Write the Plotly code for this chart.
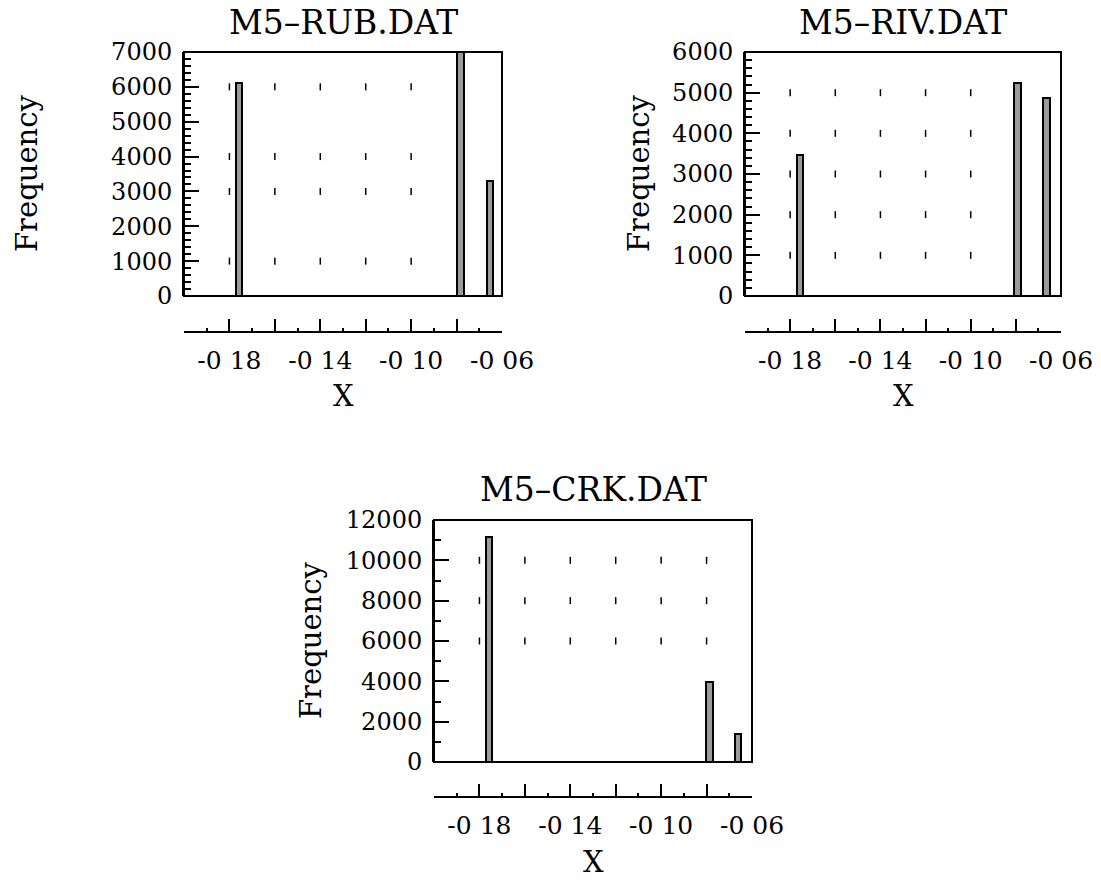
import plotly.graph_objects as go

# ---- data ----
rub_x = [-0.1757, -0.0782, -0.0654]
rub_freq = [6120, 7000, 3290]

riv_x = [-0.1756, -0.0793, -0.0664]
riv_freq = [3470, 5230, 4870]

crk_x = [-0.1758, -0.0787, -0.0661]
crk_freq = [11140, 3970, 1370]

# faint grid marks visible in the scan
rub_grid_x = [-0.18, -0.16, -0.14, -0.12, -0.10]
rub_grid_y = [1000, 3000, 4000, 6000]
riv_grid_x = [-0.18, -0.16, -0.14, -0.12, -0.10]
riv_grid_y = [1000, 2000, 3000, 4000, 5000]
crk_grid_x = [-0.18, -0.16, -0.14, -0.12, -0.10, -0.08]
crk_grid_y = [6000, 8000, 10000]

titles = ["M5\u2013RUB.DAT", "M5\u2013RIV.DAT", "M5\u2013CRK.DAT"]
x_tickvals = [-0.20, -0.18, -0.16, -0.14, -0.12, -0.10, -0.08, -0.06]
x_ticktext = ["", "-0 18", "", "-0 14", "", "-0 10", "", "-0 06"]

W, H = 1101, 880
FONT = "DejaVu Serif"


def px(x):
    return x / W


def py(y):
    return 1 - y / H


panels = [
    dict(l=184, r=502, t=52, b=296, base=332, xt=396, ymax=7000, dtick=1000, minor=200, ytx=27,
         x=rub_x, y=rub_freq, gx=rub_grid_x, gy=rub_grid_y),
    dict(l=745, r=1061, t=52, b=296, base=332, xt=396, ymax=6000, dtick=1000, minor=200, ytx=639,
         x=riv_x, y=riv_freq, gx=riv_grid_x, gy=riv_grid_y),
    dict(l=434, r=752, t=520, b=762, base=797, xt=862, ymax=12000, dtick=2000, minor=1000, ytx=311,
         x=crk_x, y=crk_freq, gx=crk_grid_x, gy=crk_grid_y),
]

fig = go.Figure()
shapes = []
annotations = []

for i, p in enumerate(panels):
    sfx = "" if i == 0 else str(i + 1)
    xa, ya = "x" + sfx, "y" + sfx

    gxs = [gx for gy in p["gy"] for gx in p["gx"]]
    gys = [gy for gy in p["gy"] for gx in p["gx"]]
    fig.add_trace(go.Scatter(
        x=gxs, y=gys, mode="markers", xaxis=xa, yaxis=ya,
        marker=dict(symbol="line-ns", size=5, line=dict(width=1.5, color="black")),
        hoverinfo="skip"))

    fig.add_trace(go.Bar(
        x=p["x"], y=p["y"], xaxis=xa, yaxis=ya, width=0.0028,
        marker=dict(color="#9a9a9a", line=dict(color="black", width=2))))

    fig.layout["xaxis" + sfx] = dict(
        domain=[px(p["l"]), px(p["r"])], range=[-0.20, -0.06],
        anchor="free", position=py(p["base"]), automargin=False,
        showline=True, linewidth=2, linecolor="black",
        ticks="inside", ticklen=12, tickwidth=2, tickcolor="black",
        tickmode="array", tickvals=x_tickvals, ticktext=x_ticktext,
        minor=dict(ticks="inside", ticklen=3, tickwidth=2, tickcolor="black",
                   tickmode="linear", tick0=-0.19, dtick=0.02),
        showgrid=False, zeroline=False, ticklabelstandoff=6,
        tickfont=dict(family=FONT, size=25, color="black"),
    )
    fig.layout["yaxis" + sfx] = dict(
        domain=[py(p["b"]), py(p["t"])], range=[0, p["ymax"]],
        anchor=xa, automargin=False, showline=True, linewidth=2, linecolor="black",
        ticks="inside", ticklen=15, tickwidth=1.5, tickcolor="black",
        dtick=p["dtick"], tick0=0, tickformat="d",
        minor=dict(ticks="inside", ticklen=7, tickwidth=1.5, tickcolor="black",
                   dtick=p["minor"]),
        showgrid=False, zeroline=False, ticklabelstandoff=5,
        tickfont=dict(family=FONT, size=24, color="black"),
    )

    shapes.append(dict(type="rect", xref=xa + " domain", yref=ya + " domain",
                       x0=0, x1=1, y0=0, y1=1, line=dict(color="black", width=2),
                       layer="above"))

    cx = px((p["l"] + p["r"]) / 2)
    annotations.append(dict(text=titles[i], x=cx, y=py(p["t"] - 30), xref="paper", yref="paper",
                            xanchor="center", yanchor="middle", showarrow=False,
                            font=dict(family=FONT, size=33, color="black")))
    annotations.append(dict(text="Frequency", x=px(p["ytx"]), y=py((p["t"] + p["b"]) / 2),
                            xref="paper", yref="paper", textangle=-90,
                            xanchor="center", yanchor="middle", showarrow=False,
                            font=dict(family=FONT, size=29, color="black")))
    annotations.append(dict(text="X", x=cx, y=py(p["xt"]), xref="paper", yref="paper",
                            xanchor="center", yanchor="middle", showarrow=False,
                            font=dict(family=FONT, size=29, color="black")))

fig.update_layout(
    width=W, height=H, margin=dict(l=0, r=0, t=0, b=0, pad=0, autoexpand=False),
    paper_bgcolor="white", plot_bgcolor="white",
    showlegend=False, bargap=0,
    shapes=shapes, annotations=annotations,
)

fig.write_html("out.html", config={"displayModeBar": False},
               post_script="document.body.style.margin='0';document.body.style.overflow='hidden';")
